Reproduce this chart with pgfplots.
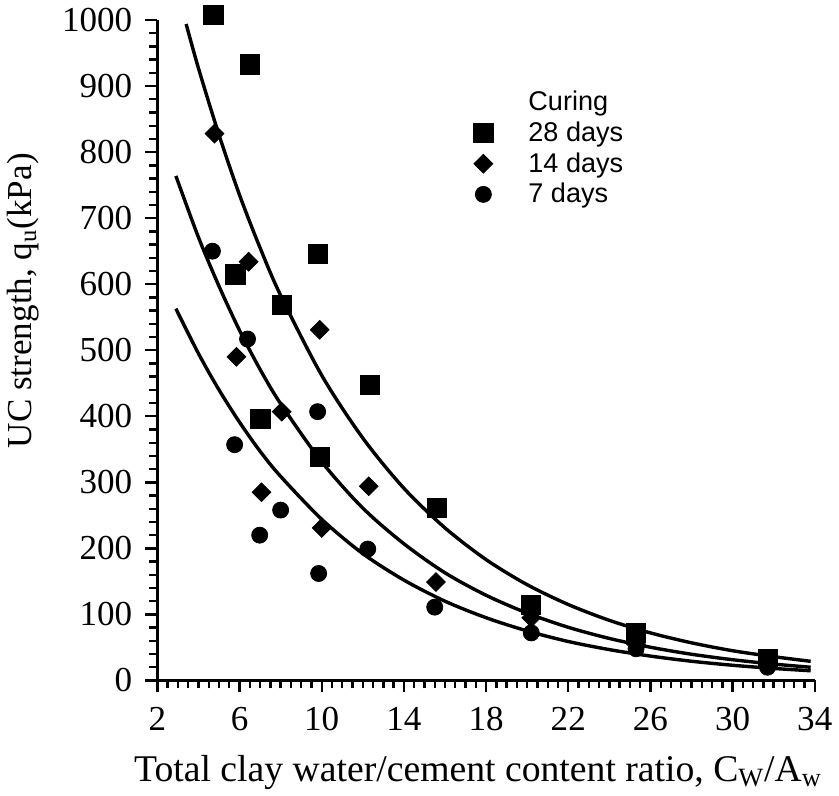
\documentclass[border=0pt]{standalone}
\usepackage{fontspec}
\setmainfont{Liberation Serif}
\newfontfamily\legfont{Liberation Sans}
\usepackage{pgfplots}
\pgfplotsset{compat=1.18}
\begin{document}
\begin{tikzpicture}
\begin{axis}[
  scale only axis, width=328pt, height=329.5pt,
  xmin=2, xmax=34, ymin=0, ymax=1000,
  axis x line*=bottom, axis y line*=left,
  axis line style={line width=1.4pt},
  xtick={2,6,...,34}, ytick={0,100,...,1000},
  minor x tick num=7, minor y tick num=4,
  tick align=outside,
  major tick length=6pt, minor tick length=4pt,
  every tick/.style={line width=1.2pt, black},
  tick label style={font=\fontsize{17.5}{20}\selectfont},
  /pgf/number format/assume math mode=true,
  /pgf/number format/1000 sep={},
  xticklabel style={yshift=-4pt},
  yticklabel style={xshift=-3pt},
  xlabel={Total clay water/cement content ratio, C$_{\mathrm{W}}$/A$_{\mathrm{w}}$},
  ylabel={UC strength, q$_{\mathrm{u}}$(kPa)},
  xlabel style={font=\fontsize{18.8}{21}\selectfont, yshift=-5pt, xshift=-4pt},
  ylabel style={font=\fontsize{17.5}{20}\selectfont,
    at={(axis description cs:-0.24,0.575)}, anchor=north},
  clip=false,
  legend style={draw=none, fill=none, at={(axis cs:17.0,905)}, anchor=north west,
    font=\legfont\fontsize{13.5}{15}\selectfont, row sep=0pt},
  legend cell align=left,
  legend image code/.code={\draw[#1] plot coordinates {(0.2cm,0cm)}; \path[draw=none] (0,0) -- (0.92cm,0);},
  after end axis/.code={\path (rel axis cs:0,1) ++(0,10pt);},
]
\addlegendimage{empty legend}
\addlegendentry{Curing}
\addplot[only marks, mark=square*, mark size=4.8pt, black] coordinates {
(4.73,1008) (6.49,933) (5.80,615) (8.05,569) (7.02,396) (9.80,646) (9.90,338) (12.34,448) (15.6,261) (20.2,114) (25.3,72) (31.7,33)};
\addlegendentry{28 days}
\addplot[only marks, mark=square*, mark size=3.3pt, mark options={rotate=45}, black] coordinates {
(4.78,828) (6.44,634) (5.85,490) (8.05,407) (7.07,285) (9.90,531) (10.0,231) (12.29,294) (15.56,149) (20.2,95) (25.3,55) (31.7,25)};
\addlegendentry{14 days}
\addplot[only marks, mark=*, mark size=4pt, black] coordinates {
(4.68,650) (6.39,517) (5.76,357) (8.0,258) (6.98,220) (9.80,407) (9.85,162) (12.24,199) (15.5,111) (20.2,72) (25.3,48) (31.7,20)};
\addlegendentry{7 days}
\addplot[no marks, smooth, line width=1.7pt, black, forget plot] coordinates {
(3.4,994) (4,927) (5,826) (6,735) (7,655) (8,583) (10,462) (12,367) (14,291) (16,231) (18,183) (20,145) (22,115) (24,91) (26,72) (28,57) (30,45) (32,36) (33.8,29)};
\addplot[no marks, smooth, line width=1.7pt, black, forget plot] coordinates {
(2.9,764) (4,671) (5,597) (6,530) (7,471) (8,419) (10,331) (12,261) (14,207) (16,163) (18,129) (20,102) (22,80.5) (24,63.6) (26,50.3) (28,39.7) (30,31.4) (32,24.8) (33.8,20)};
\addplot[no marks, smooth, line width=1.7pt, black, forget plot] coordinates {
(2.9,563) (4,495) (5,440) (6,391) (7,347) (8,309) (10,244) (12,192) (14,152) (16,120) (18,95) (20,75) (22,59) (24,46.7) (26,36.9) (28,29.1) (30,23) (32,18.2) (33.8,14.7)};
\end{axis}
\end{tikzpicture}
\end{document}
